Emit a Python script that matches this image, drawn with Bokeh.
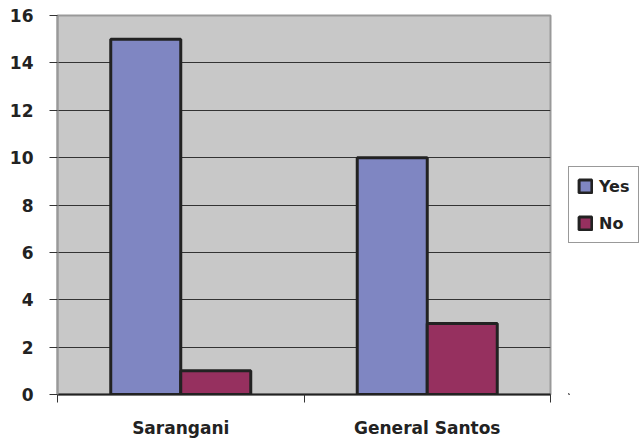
from bokeh.plotting import figure
from bokeh.models import (ColumnDataSource, FixedTicker, LinearAxis, Range1d, Legend, LegendItem)
from bokeh.transform import dodge
from bokeh.layouts import row
from bokeh.embed import file_html
from bokeh.resources import INLINE

categories = ["Sarangani", "General Santos"]
series = ["Yes", "No"]
colors = ["#7f86c2", "#96305f"]
yes_values = [15, 10]
no_values = [1, 3]
y_ticks = [0, 2, 4, 6, 8, 10, 12, 14, 16]

xpos = [i + 0.5 for i in range(len(categories))]
src = ColumnDataSource(dict(x=xpos, yes=yes_values, no=no_values))

FONT = "DejaVu Sans"
p = figure(width=568, height=441, output_backend="svg", toolbar_location=None,
           x_range=Range1d(0, len(categories)), y_range=Range1d(0, 16),
           min_border_left=57, min_border_right=18, min_border_top=15, min_border_bottom=47,
           background_fill_color="#c8c8c8", border_fill_color="white")

p.outline_line_color = "#999999"
p.outline_line_width = 2

bw = 0.284
r1 = p.vbar(x=dodge("x", -bw / 2), top="yes", width=bw, source=src,
            fill_color=colors[0], line_color="#222222", line_width=3)
r2 = p.vbar(x=dodge("x", bw / 2), top="no", width=bw, source=src,
            fill_color=colors[1], line_color="#222222", line_width=3)

# y axis
p.yaxis.ticker = FixedTicker(ticks=y_ticks)
p.yaxis.axis_line_color = "#999999"
p.yaxis.axis_line_width = 2
p.yaxis.major_tick_line_color = "#333333"
p.yaxis.major_tick_out = 8
p.yaxis.major_tick_in = 0
p.yaxis.minor_tick_line_color = None
p.yaxis.major_label_standoff = 16
p.yaxis.major_label_text_font = FONT
p.yaxis.major_label_text_font_style = "bold"
p.yaxis.major_label_text_font_size = "17px"
p.yaxis.major_label_text_color = "#222222"

p.ygrid.ticker = FixedTicker(ticks=y_ticks)
p.ygrid.grid_line_color = "#333333"
p.ygrid.grid_line_width = 1
p.xgrid.grid_line_color = None

# x axis: boundary ticks
xa = p.xaxis[0]
xa.ticker = FixedTicker(ticks=list(range(len(categories) + 1)))
xa.major_label_overrides = {i: "" for i in range(len(categories) + 1)}
xa.major_label_text_font_size = "1px"
xa.major_label_standoff = 0
xa.axis_line_color = "#222222"
xa.axis_line_width = 2
xa.major_tick_line_color = "#333333"
xa.major_tick_out = 8
xa.major_tick_in = 0
xa.minor_tick_line_color = None

# category labels axis
ca = LinearAxis(ticker=FixedTicker(ticks=xpos),
                major_label_overrides={x: c for x, c in zip(xpos, categories)})
ca.axis_line_color = None
ca.major_tick_line_color = None
ca.minor_tick_line_color = None
ca.major_label_standoff = 9
ca.major_label_text_font = FONT
ca.major_label_text_font_style = "bold"
ca.major_label_text_font_size = "17px"
ca.major_label_text_color = "#222222"
p.add_layout(ca, "below")

# legend figure (swatch renderers sit outside its visible range)
q = figure(width=71, height=441, output_backend="svg", toolbar_location=None,
           x_range=Range1d(0, 1), y_range=Range1d(0, 1),
           x_axis_type=None, y_axis_type=None, min_border=0,
           outline_line_color=None, background_fill_color="white", border_fill_color="white")
q.xgrid.grid_line_color = None
q.ygrid.grid_line_color = None
dummy = ColumnDataSource(dict(x=[-5], top=[-5]))
lr = [q.vbar(x="x", top="top", bottom=-6, width=0.1, source=dummy, fill_color=c,
             line_color="#222222", line_width=3) for c in colors]

legend = Legend(items=[LegendItem(label=s, renderers=[r]) for s, r in zip(series, lr)],
                location=(0, 151))
legend.label_text_font = FONT
legend.label_text_font_style = "bold"
legend.label_text_font_size = "16px"
legend.label_text_color = "#222222"
legend.border_line_color = "#333333"
legend.border_line_width = 1
legend.background_fill_color = "white"
legend.glyph_width = 16
legend.glyph_height = 16
legend.label_height = 22
legend.padding = 8
legend.spacing = 15
legend.label_standoff = 6
legend.margin = 0
q.add_layout(legend, "center")

layout = row(p, q, spacing=0)
open("out.html", "w").write(file_html(layout, INLINE))
